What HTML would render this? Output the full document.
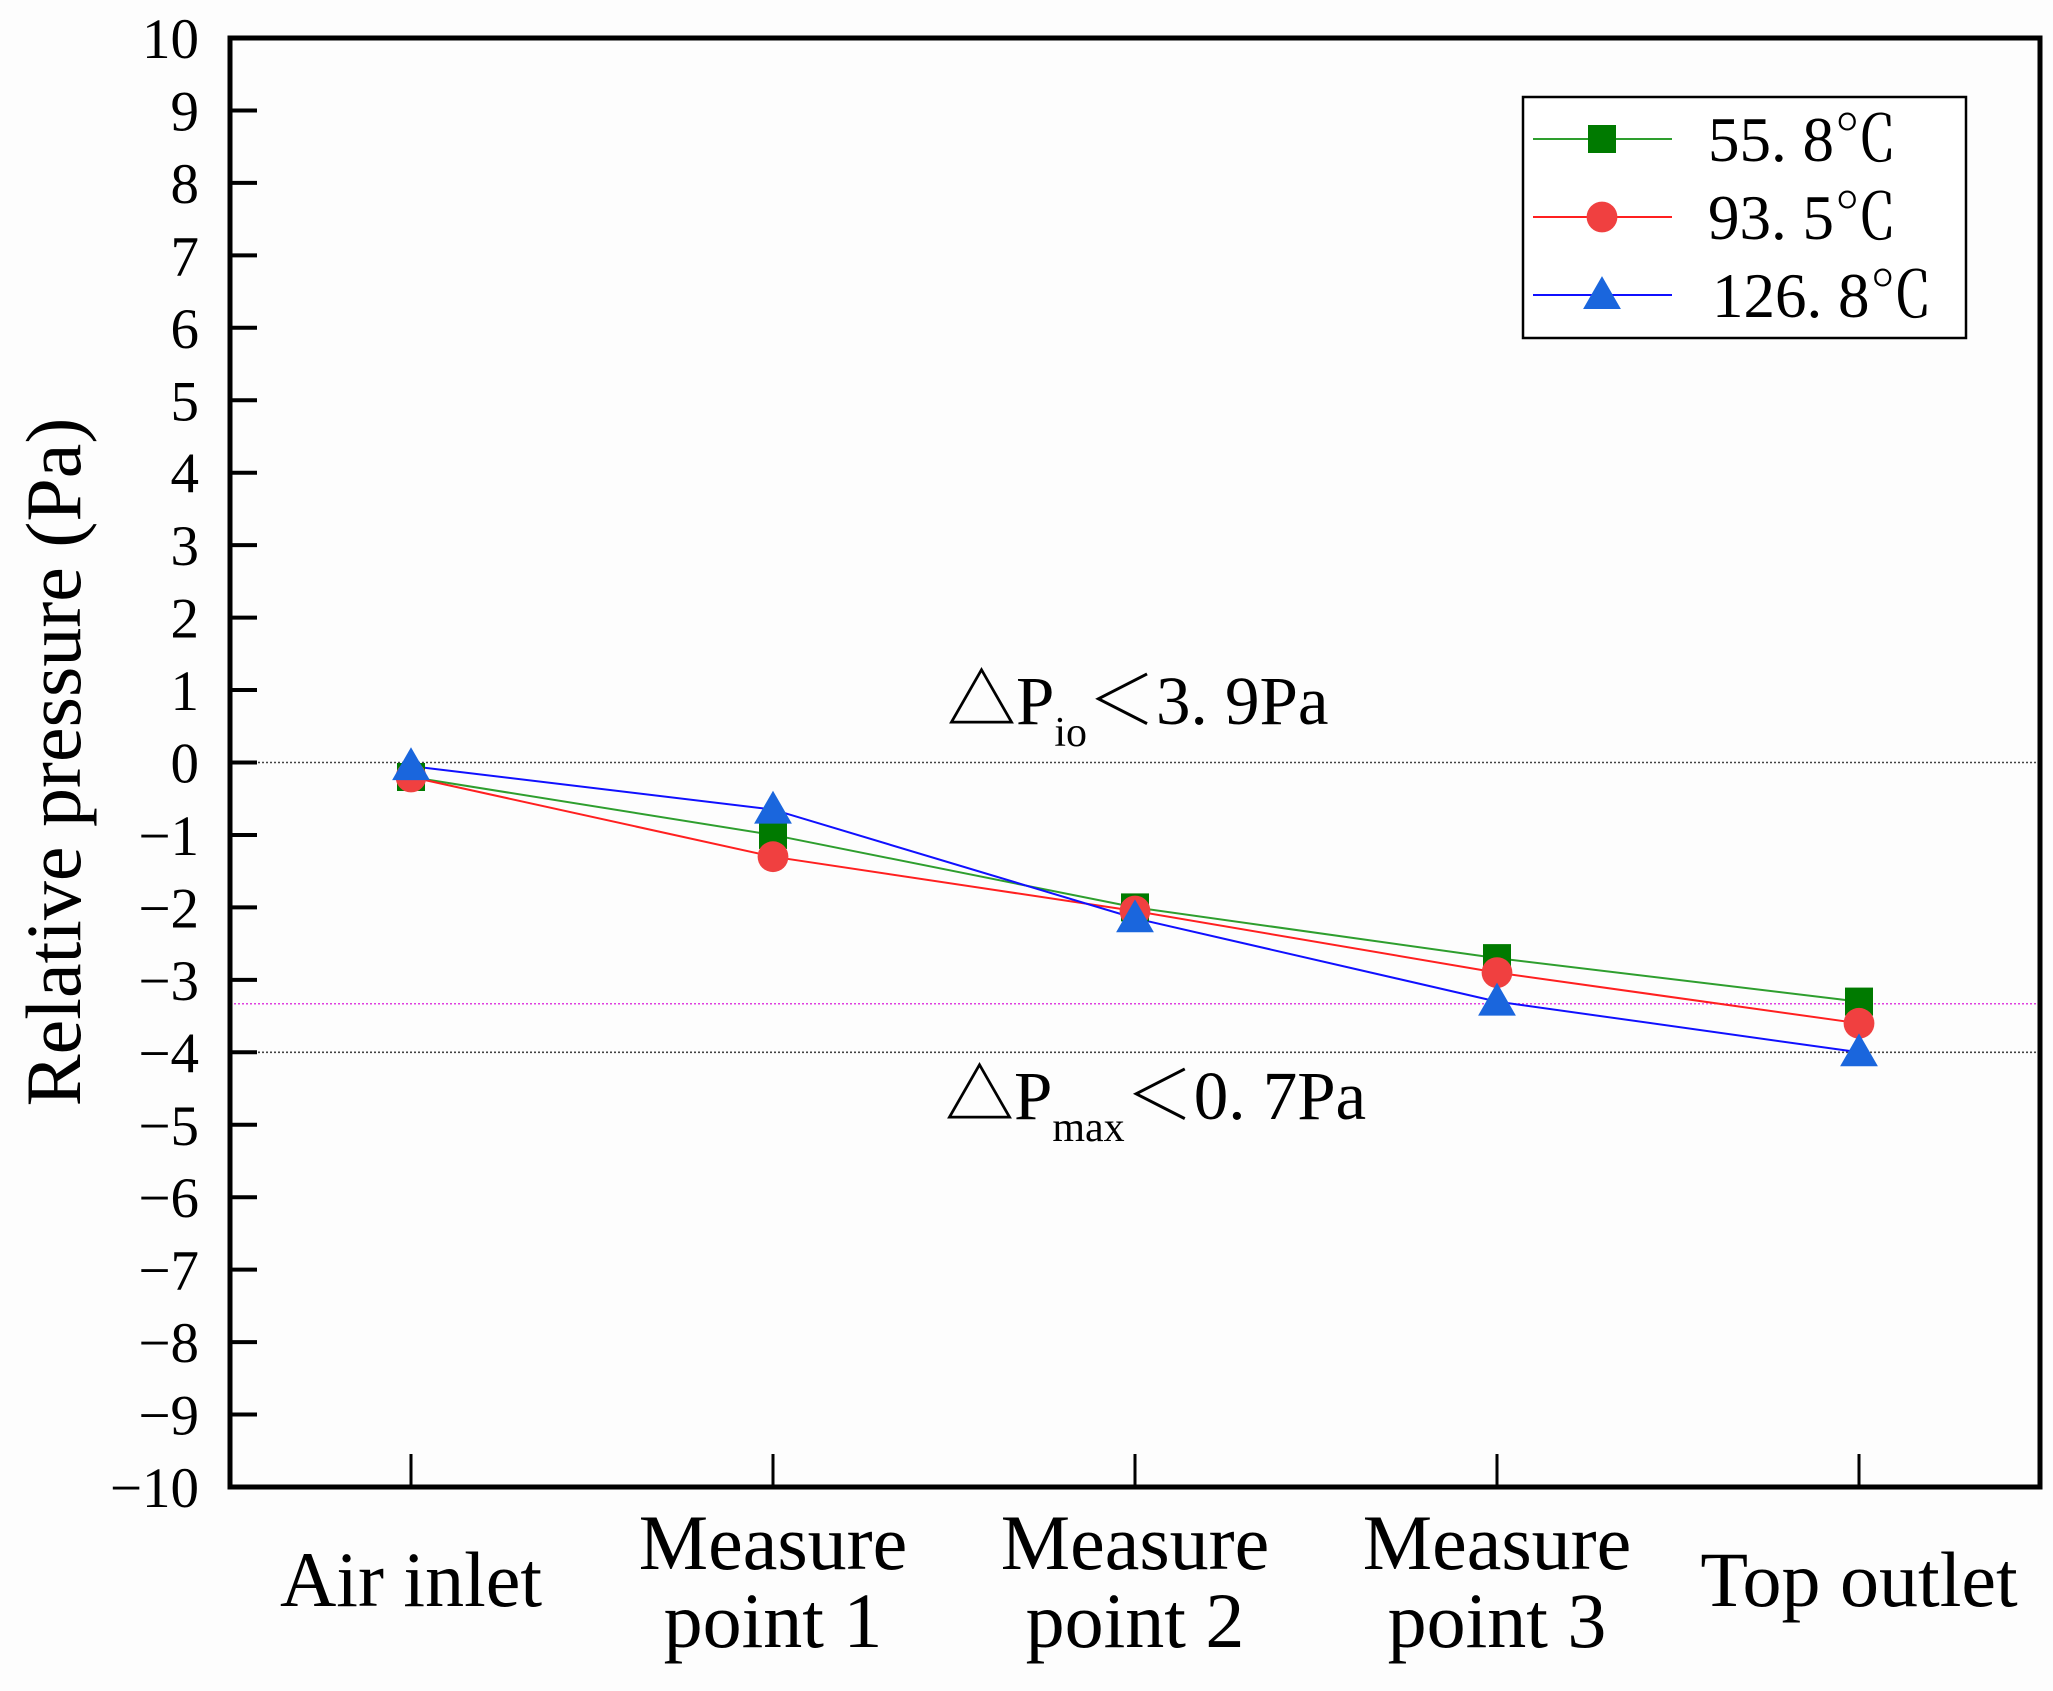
<!DOCTYPE html>
<html><head><meta charset="utf-8"><style>
html,body{margin:0;padding:0;background:#fdfdfd;}
svg{display:block;}
svg text{font-family:"Liberation Serif","Noto Serif CJK SC",serif;}
</style></head><body>
<svg id="chart" width="2053" height="1691" viewBox="0 0 2053 1691" xmlns="http://www.w3.org/2000/svg">
<rect x="0" y="0" width="2053" height="1691" fill="#fdfdfd"/>
<g id="grid"></g>
<g id="series"></g>
<g id="axes"></g>
</svg>
<script>
const categories = [["Air inlet"],["Measure","point 1"],["Measure","point 2"],["Measure","point 3"],["Top outlet"]];
const seriesNames = ["55. 8℃","93. 5℃","126. 8℃"];
const greenValues = [-0.2,-1.0,-2.0,-2.7,-3.3];
const redValues = [-0.2,-1.3,-2.05,-2.9,-3.6];
const blueValues = [-0.05,-0.65,-2.15,-3.3,-4.0];
const yTicks = [10,9,8,7,6,5,4,3,2,1,0,-1,-2,-3,-4,-5,-6,-7,-8,-9,-10];
const refLines = [0,-4];
const maxLine = [-3.33];

const NS="http://www.w3.org/2000/svg";
const SERIF='"Liberation Serif","Noto Serif CJK SC",serif';
const CJKSERIF='"Noto Serif CJK SC","Liberation Serif",serif';
const L=230,R=2040,T=38,B=1487;
const yMin=-10,yMax=10;
function ys(v){return B-(v-yMin)/(yMax-yMin)*(B-T);}
const band=(R-L)/categories.length;
function xs(i){return L+band*(i+0.5);}
function mk(tag,attrs,parent){const e=document.createElementNS(NS,tag);for(const k in attrs)e.setAttribute(k,attrs[k]);parent.appendChild(e);return e;}
const grid=document.getElementById('grid'),ser=document.getElementById('series'),ax=document.getElementById('axes');

refLines.forEach(v=>{
  const l=mk('line',{x1:L,x2:R,y1:ys(v),y2:ys(v),stroke:'#444','stroke-width':1.6,'stroke-dasharray':'2,2'},grid);
  
  
});
maxLine.forEach(v=>{
  const l=mk('line',{x1:L,x2:R,y1:ys(v),y2:ys(v),stroke:'#e040e0','stroke-width':1.6,'stroke-dasharray':'2,2'},grid);
  
  
});

function annot(x,y,sub,rest,name){
  const t=mk('text',{x:x,y:y,'font-size':69,fill:'#000','font-family':CJKSERIF},grid);
  
  
  const a=mk('tspan',{},t);a.textContent='△P';
  const b=mk('tspan',{'font-size':42,dy:22},t);b.textContent=sub;
  const c=mk('tspan',{dy:-22},t);c.textContent=rest;
}
annot(947,724,'io','＜3. 9Pa','delta-p-io-label');
annot(945,1119,'max','＜0. 7Pa','delta-p-max-label');

const cols=[['#2e9e2e','#007a00','square'],['#ff2020','#f04040','circle'],['#1010ff','#1a66dd','triangle']];
const data=[greenValues,redValues,blueValues];
function marker(type,x,y,fill,parent,s){
  let e;
  if(type==='square')e=mk('rect',{x:x-s,y:y-s,width:2*s,height:2*s,fill:fill},parent);
  else if(type==='circle')e=mk('circle',{cx:x,cy:y,r:s*1.1,fill:fill},parent);
  else e=mk('polygon',{points:`${x},${y-s*1.35} ${x-s*1.35},${y+s} ${x+s*1.35},${y+s}`,fill:fill},parent);
  return e;
}
data.forEach((vals,si)=>{
  const pts=vals.map((v,i)=>xs(i)+','+ys(v)).join(' ');
  const pl=mk('polyline',{points:pts,fill:'none',stroke:cols[si][0],'stroke-width':2},ser);
  
  
});
data.forEach((vals,si)=>{
  vals.forEach((v,i)=>{
    const m=marker(cols[si][2],xs(i),ys(v),cols[si][1],ser,14);
    
    
  });
});

const fr=mk('rect',{x:L,y:T,width:R-L,height:B-T,fill:'none',stroke:'#000','stroke-width':5},ax);


yTicks.forEach(v=>{
  const y=ys(v);
  if(v!==10&&v!==-10){
    const tk=mk('line',{x1:L,x2:L+27,y1:y,y2:y,stroke:'#000','stroke-width':4},ax);
    
    
  }
  const t=mk('text',{x:199,y:y+20,'font-size':57,'text-anchor':'end',fill:'#000','font-family':SERIF},ax);
  
  
  t.textContent=(v<0?'−'+(-v):String(v));
});
categories.forEach((c,i)=>{
  const x=xs(i);
  const tk=mk('line',{x1:x,x2:x,y1:B,y2:B-33,stroke:'#000','stroke-width':3},ax);
  
  
  const t=mk('text',{x:x,'font-size':78,'text-anchor':'middle',fill:'#000','font-family':SERIF},ax);
  
  
  if(c.length===1){t.setAttribute('y',1606);t.textContent=c[0];}
  else{
    const a=mk('tspan',{x:x,y:1569},t);a.textContent=c[0];
    const b=mk('tspan',{x:x,y:1647},t);b.textContent=c[1];
  }
});
const yt=mk('text',{x:0,y:0,'font-size':78,'text-anchor':'middle',fill:'#000','font-family':SERIF,transform:'translate(80,762) rotate(-90)'},ax);


yt.textContent='Relative pressure (Pa)';

const lg=mk('g',{},ax);


const lb=mk('rect',{x:1523,y:97,width:443,height:241,fill:'#fff',stroke:'#000','stroke-width':2.5},lg);


const rows=[139,217,295];
seriesNames.forEach((n,si)=>{
  const y=rows[si];
  const e=mk('g',{},lg);
  
  
  mk('line',{x1:1533,x2:1672,y1:y,y2:y,stroke:cols[si][0],'stroke-width':2},e);
  marker(cols[si][2],1602,y,cols[si][1],e,14);
  const t=mk('text',{x:si===2?1712:1708,y:y+22,'font-size':63,fill:'#000','font-family':CJKSERIF},e);
  t.textContent=n;
});
</script>
</body></html>
